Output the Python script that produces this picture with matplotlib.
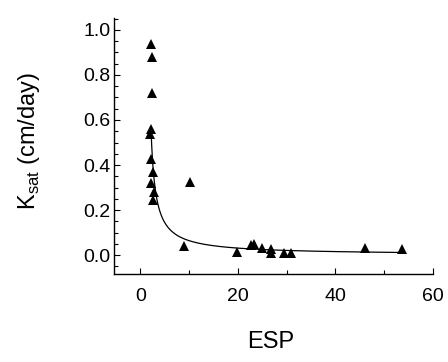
import numpy as np
import matplotlib
matplotlib.use("Agg")
import matplotlib.pyplot as plt
from matplotlib.ticker import MultipleLocator

plt.rcParams['font.family'] = ['Liberation Sans', 'DejaVu Sans']

# Observed data (ESP, Ksat)
esp = [2.2, 2.3, 2.3, 2.2, 2.05, 2.2, 2.65, 2.25, 2.8, 2.65, 10.2,
       9.0, 19.9, 22.6, 23.3, 25.0, 26.8, 26.8, 29.4, 30.8, 46.1, 53.6]
ksat = [0.938, 0.881, 0.719, 0.560, 0.536, 0.427, 0.368, 0.320, 0.279, 0.244, 0.326,
        0.040, 0.015, 0.044, 0.049, 0.030, 0.025, 0.010, 0.010, 0.010, 0.030, 0.025]

# Fitted curve: Ksat = a / (ESP - c) ** b
curve_a = 0.50
curve_c = 1.30
curve_b = 0.95
curve_xmin, curve_xmax = 2.2, 53.6

x_ticks = [0, 20, 40, 60]
y_ticks = [0.0, 0.2, 0.4, 0.6, 0.8, 1.0]

fig = plt.figure(figsize=(4.48, 3.62), dpi=100)
ax = fig.add_axes([114/448, 1-274/362, (433-114)/448, (274-18)/362])

xc = np.linspace(curve_xmin, curve_xmax, 400)
ax.plot(xc, curve_a / (xc - curve_c) ** curve_b, color='black', lw=0.9)
ax.plot(esp, ksat, linestyle='none', marker='^', color='black', ms=6.8, mew=0)

ax.set_xlim(-5.4, 60)
ax.set_ylim(-0.084, 1.053)
ax.set_xticks(x_ticks)
ax.set_yticks(y_ticks)
ax.set_yticklabels([f"{v:.1f}" for v in y_ticks])
ax.xaxis.set_minor_locator(MultipleLocator(10))
ax.yaxis.set_minor_locator(MultipleLocator(0.05))

for s in ['top', 'right']:
    ax.spines[s].set_visible(False)
for s in ['left', 'bottom']:
    ax.spines[s].set_linewidth(1.0)

ax.tick_params(which='both', direction='in', width=0.8)
ax.tick_params(which='major', length=4)
ax.tick_params(which='minor', length=3)
ax.tick_params(axis='x', which='major', pad=10, labelsize=14)
ax.tick_params(axis='y', which='major', pad=2.5, labelsize=14)

ax.set_xlabel('ESP', fontsize=17)
ax.xaxis.set_label_coords(0.49, -0.222)
ax.set_ylabel(r'K$_{\mathregular{sat}}$ (cm/day)', fontsize=17)
ax.yaxis.set_label_coords(-0.226, 0.52)

fig.savefig('out.png', dpi=100)
